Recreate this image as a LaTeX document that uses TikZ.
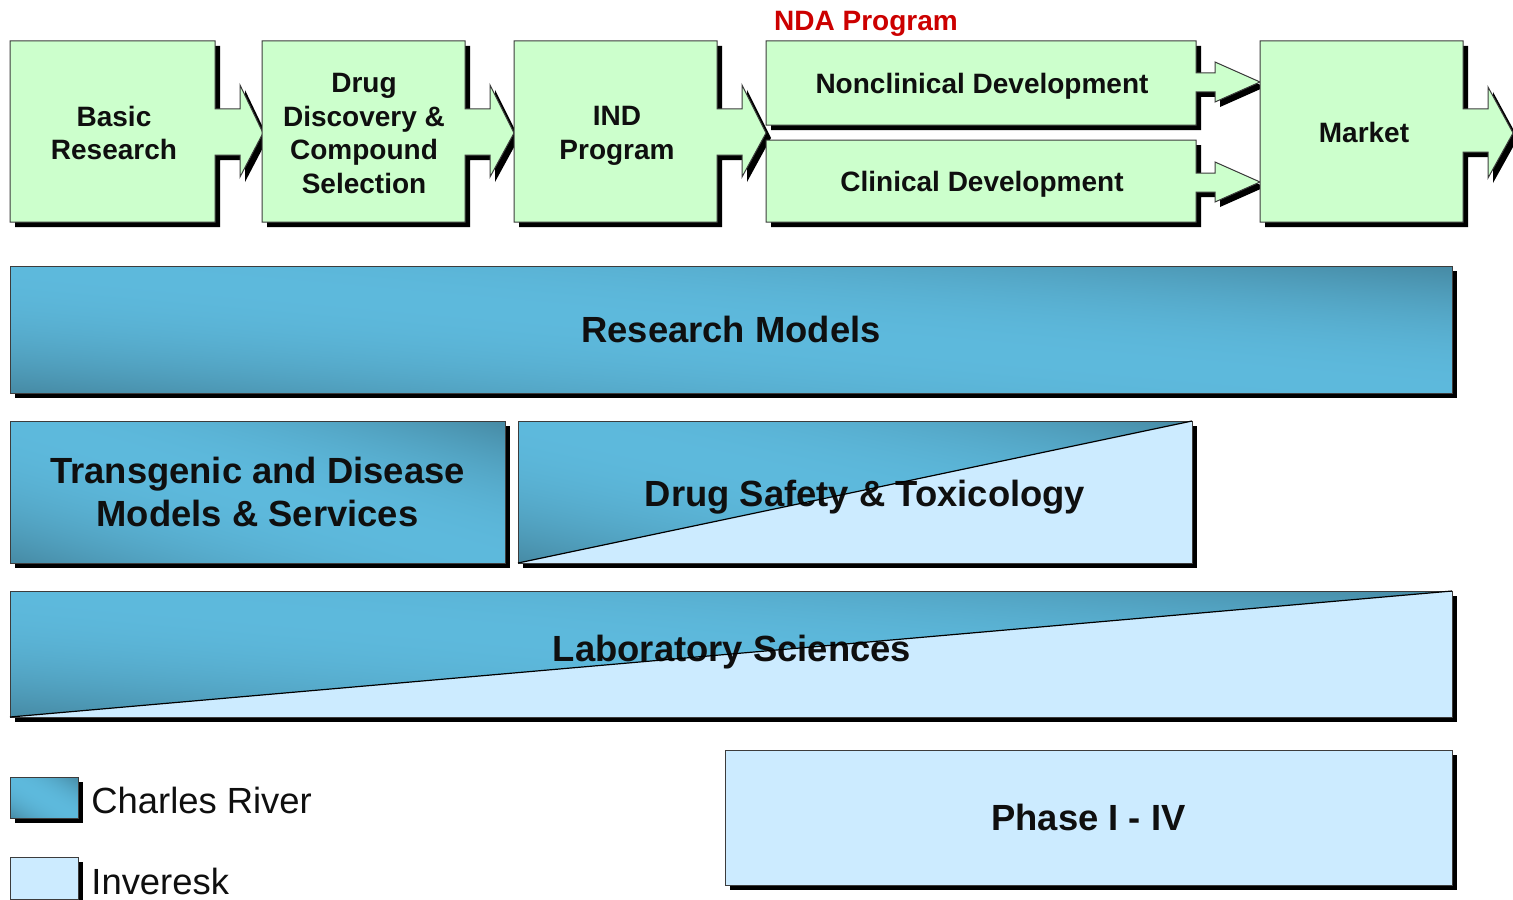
\documentclass[tikz,border=0pt]{standalone}
\usepackage{fontspec}
\setmainfont{Liberation Sans}
\usetikzlibrary{shadows}

\definecolor{stagegreen}{RGB}{204,255,204}
\definecolor{edgegray}{RGB}{60,60,60}
\definecolor{invblue}{RGB}{204,235,255}
\definecolor{ndared}{RGB}{204,0,0}
\definecolor{inktext}{RGB}{15,15,15}

% Charles River blue: light across the middle, darker towards the
% bottom-left and top-right corners of the shape.
% t = (x+y-50)/100 runs 0..1 from corner to corner of the fitted box.
\pgfdeclarefunctionalshading{charles}{\pgfpointorigin}{\pgfpoint{100bp}{100bp}}{}{%
  add 50 sub 100 div
  0.5 sub 0.5 div dup mul
  dup 1 gt {pop 1} if
  dup -0.090 mul 0.365 add exch
  dup -0.184 mul 0.725 add exch
  -0.220 mul 0.863 add}

\begin{document}
\begin{tikzpicture}[x=0.5pt,y=-0.5pt,
  shadowed/.style={drop shadow={shadow xshift=2.5pt,shadow yshift=-2.5pt,
      fill=black,opacity=1}},
  stageshape/.style={shadowed,fill=stagegreen,draw=edgegray,line width=0.5pt},
  stagetext/.style={font=\fontsize{14}{16.8}\selectfont\bfseries,
      text=inktext,align=center,inner sep=0pt},
  cr/.style={shading=charles},
  bar/.style={shadowed,draw=edgegray,line width=0.5pt,inner sep=0pt,outer sep=0pt,
      anchor=north west,align=center,text=inktext,
      font=\fontsize{18.2}{21.5}\selectfont\bfseries},
  bartext/.style={inner sep=0pt,text=inktext,
      font=\fontsize{18.2}{21.5}\selectfont\bfseries},
  crbar/.style={bar,cr},
  invbar/.style={bar,fill=invblue},
  splitbar/.style={bar,fill=invblue,
      path picture={\fill[cr] (path picture bounding box.south west)
        -- (path picture bounding box.north east)
        -- (path picture bounding box.north west) -- cycle;}},
  diag/.style={draw=black,line width=0.6pt},
  legtext/.style={anchor=west,inner sep=0pt,text=inktext,
      font=\fontsize{18.2}{21.5}\selectfont}]

\useasboundingbox (0,0) rectangle (1513,899);

% ---- pipeline stages (box with outgoing arrow) ----
\path[stageshape] (10,41) -| (215,109) -- (240,109) -- (240,85) -- (263,133)
  -- (240,177) -- (240,155) -- (215,155) |- (10,222) -- cycle;
\path[stageshape] (262,41) -| (465,109) -- (490,109) -- (490,85) -- (514,133)
  -- (490,177) -- (490,155) -- (465,155) |- (262,222) -- cycle;
\path[stageshape] (514,41) -| (717,109) -- (742,109) -- (742,85) -- (766,133)
  -- (742,177) -- (742,155) -- (717,155) |- (514,222) -- cycle;
\path[stageshape] (766,41) -| (1196,73) -- (1215,73) -- (1215,62) -- (1260,82)
  -- (1215,102) -- (1215,92) -- (1196,92) |- (766,125) -- cycle;
\path[stageshape] (766,140) -| (1196,173) -- (1215,173) -- (1215,162) -- (1260,182)
  -- (1215,202) -- (1215,192) -- (1196,192) |- (766,222) -- cycle;
\path[stageshape] (1260,41) -| (1463,109) -- (1488,109) -- (1488,87) -- (1513,133)
  -- (1488,178) -- (1488,152) -- (1463,152) |- (1260,222) -- cycle;

\node[stagetext] (basic)   at (114,133)   {Basic\\Research};
\node[stagetext] (drug)    at (364,133.5) {Drug\\Discovery \&\\Compound\\Selection};
\node[stagetext] (ind)     at (617,136)   {IND\\Program};
\node[stagetext] (nonclin) at (982,86)    {Nonclinical Development};
\node[stagetext] (clin)    at (982,184)   {Clinical Development};
\node[stagetext] (market)  at (1364,132)  {Market};
\node[stagetext,text=ndared] (nda) at (866,24) {NDA Program};

% ---- service bars ----
\node[crbar,minimum width=721pt,minimum height=63.5pt] (rm) at (10,266)
  {Research Models};
\node[crbar,minimum width=247.5pt,minimum height=71pt] (tg) at (10,421)
  {Transgenic and Disease\\Models \& Services};
\node[splitbar,minimum width=337pt,minimum height=71pt] (ds) at (518,421) {};
\node[bartext] (dstext) at (865,497) {Drug Safety \& Toxicology};
\draw[diag] (ds.south west) -- (ds.north east);
\node[splitbar,minimum width=721pt,minimum height=63pt] (ls) at (10,591) {};
\node[bartext] (lstext) at (732,652) {Laboratory Sciences};
\draw[diag] (ls.south west) -- (ls.north east);
\node[invbar,minimum width=363.5pt,minimum height=67.5pt] (ph) at (725,750)
  {Phase I - IV};

% ---- legend ----
\node[crbar,minimum width=34pt,minimum height=20.5pt] (legcr) at (10,777) {};
\node[legtext] (legcrt) at (91,800) {Charles River};
\node[invbar,minimum width=34pt,minimum height=21pt] (leginv) at (10,857) {};
\node[legtext] (leginvt) at (91,881) {Inveresk};

\end{tikzpicture}
\end{document}
